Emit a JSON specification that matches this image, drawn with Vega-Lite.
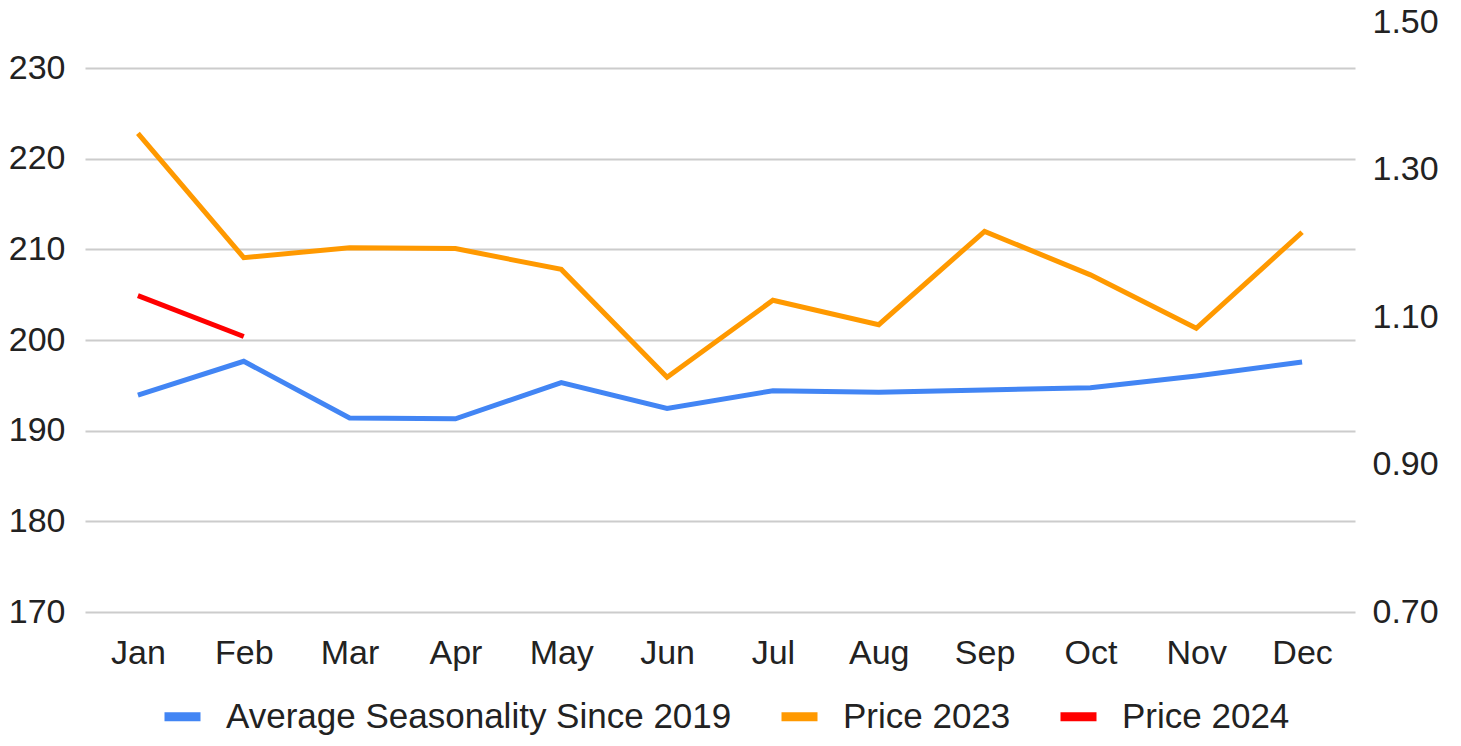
{
  "$schema": "https://vega.github.io/schema/vega-lite/v6.json",
  "width": 1270,
  "height": 590,
  "autosize": "none",
  "padding": {"left": 85, "top": 22, "right": 106, "bottom": 134},
  "background": "white",
  "config": {
    "view": {"stroke": null},
    "font": "Liberation Sans",
    "axis": {"labelFont": "Liberation Sans", "labelColor": "#222222", "labelFontSize": 34, "ticks": false, "domain": false, "title": null, "labelFlush": false}
  },
  "data": {
    "values": [
      {"month": "Jan", "series": "Average Seasonality Since 2019", "value": 0.994},
      {"month": "Feb", "series": "Average Seasonality Since 2019", "value": 1.040},
      {"month": "Mar", "series": "Average Seasonality Since 2019", "value": 0.963},
      {"month": "Apr", "series": "Average Seasonality Since 2019", "value": 0.962},
      {"month": "May", "series": "Average Seasonality Since 2019", "value": 1.011},
      {"month": "Jun", "series": "Average Seasonality Since 2019", "value": 0.976},
      {"month": "Jul", "series": "Average Seasonality Since 2019", "value": 1.000},
      {"month": "Aug", "series": "Average Seasonality Since 2019", "value": 0.998},
      {"month": "Sep", "series": "Average Seasonality Since 2019", "value": 1.001},
      {"month": "Oct", "series": "Average Seasonality Since 2019", "value": 1.004},
      {"month": "Nov", "series": "Average Seasonality Since 2019", "value": 1.020},
      {"month": "Dec", "series": "Average Seasonality Since 2019", "value": 1.039},
      {"month": "Jan", "series": "Price 2023", "value": 222.8},
      {"month": "Feb", "series": "Price 2023", "value": 209.1},
      {"month": "Mar", "series": "Price 2023", "value": 210.2},
      {"month": "Apr", "series": "Price 2023", "value": 210.1},
      {"month": "May", "series": "Price 2023", "value": 207.8},
      {"month": "Jun", "series": "Price 2023", "value": 195.9},
      {"month": "Jul", "series": "Price 2023", "value": 204.4},
      {"month": "Aug", "series": "Price 2023", "value": 201.7},
      {"month": "Sep", "series": "Price 2023", "value": 212.0},
      {"month": "Oct", "series": "Price 2023", "value": 207.2},
      {"month": "Nov", "series": "Price 2023", "value": 201.3},
      {"month": "Dec", "series": "Price 2023", "value": 211.9},
      {"month": "Jan", "series": "Price 2024", "value": 204.9},
      {"month": "Feb", "series": "Price 2024", "value": 200.4}
    ]
  },
  "encoding": {
    "x": {
      "field": "month", "type": "ordinal",
      "sort": ["Jan","Feb","Mar","Apr","May","Jun","Jul","Aug","Sep","Oct","Nov","Dec"],
      "scale": {"type": "point", "padding": 0.5},
      "axis": {"labelAngle": 0, "labelPadding": 24, "grid": false}
    },
    "color": {
      "field": "series", "type": "nominal",
      "scale": {
        "domain": ["Average Seasonality Since 2019", "Price 2023", "Price 2024"],
        "range": ["#4285F4", "#FF9900", "#FF0000"]
      },
      "legend": {
        "orient": "none", "legendX": 75, "legendY": 672, "direction": "horizontal",
        "title": null, "symbolType": "stroke", "symbolSize": 1296,
        "symbolStrokeWidth": 9, "labelFontSize": 35, "labelFont": "Liberation Sans",
        "labelColor": "#222222", "labelOffset": 21, "labelLimit": 700, "columnPadding": 31
      }
    }
  },
  "layer": [
    {
      "transform": [{"filter": "datum.series !== 'Average Seasonality Since 2019'"}],
      "mark": {"type": "line", "strokeWidth": 5},
      "encoding": {
        "y": {
          "field": "value", "type": "quantitative",
          "scale": {"domain": [170, 235.1], "nice": false, "zero": false},
          "axis": {"orient": "left", "values": [170, 180, 190, 200, 210, 220, 230], "labelPadding": 20, "grid": true, "gridColor": "#cccccc", "gridWidth": 2}
        }
      }
    },
    {
      "transform": [{"filter": "datum.series === 'Average Seasonality Since 2019'"}],
      "mark": {"type": "line", "strokeWidth": 5},
      "encoding": {
        "y": {
          "field": "value", "type": "quantitative",
          "scale": {"domain": [0.7, 1.5], "nice": false, "zero": false},
          "axis": {"orient": "right", "values": [0.7, 0.9, 1.1, 1.3, 1.5], "format": ".2f", "labelPadding": 17, "grid": false}
        }
      }
    }
  ],
  "resolve": {"scale": {"y": "independent"}}
}
